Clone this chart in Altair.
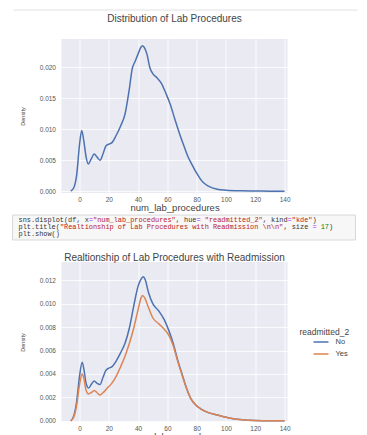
import altair as alt
import pandas as pd

# ---------------- data ----------------
top_x = [-6, -4, -2, 0, 1.5, 3, 4.5, 6, 8, 10, 12, 14, 16, 18, 20, 22, 25, 28, 31,
         34, 36, 38, 40, 42, 43, 44, 46, 48, 50, 53, 56, 59, 62, 65, 68, 71, 74,
         77, 80, 84, 88, 94, 100, 110, 120, 130, 140]
top_density = [0.0, 0.0005, 0.0025, 0.0075, 0.0098, 0.0080, 0.0055, 0.0044, 0.0052,
               0.0060, 0.0055, 0.0050, 0.0060, 0.0073, 0.0076, 0.0078, 0.0090, 0.0105,
               0.0124, 0.0165, 0.0198, 0.0210, 0.0222, 0.0233, 0.0235, 0.0233, 0.0222,
               0.0200, 0.0190, 0.0183, 0.0174, 0.0158, 0.0140, 0.0117, 0.0095, 0.0075,
               0.0056, 0.0042, 0.0029, 0.0015, 0.0008, 0.0003, 0.00015, 0.00005,
               0.00002, 0.0, 0.0]

no_x = [-6, -4, -2, 0, 1.8, 3, 4.5, 6.3, 8, 10, 12, 14, 16, 18, 20, 22, 25, 28, 31,
        34, 37, 40, 42, 43.5, 45, 47, 50, 54, 58, 61, 64, 67, 70, 73, 76, 79, 83, 88,
        94, 100, 106, 115, 125, 140]
no_density = [0.0, 0.0004, 0.0016, 0.0038, 0.0050, 0.0044, 0.0032, 0.0028, 0.0031,
              0.0034, 0.0032, 0.0031, 0.0037, 0.0043, 0.0045, 0.0046, 0.0051, 0.0058,
              0.0066, 0.0079, 0.0098, 0.0115, 0.0121, 0.0123, 0.0120, 0.0110, 0.0100,
              0.0094, 0.0086, 0.0077, 0.0066, 0.0052, 0.0040, 0.0028, 0.0019, 0.0014,
              0.0010, 0.0007, 0.0005, 0.0003, 0.00015, 0.00005, 0.00001, 0.0]

yes_x = [-6, -4, -2, 0, 1.8, 3, 4.5, 6, 8, 10, 12, 14, 16, 19, 22, 25, 28, 31, 34,
         37, 40, 42, 43, 44.5, 47, 50, 54, 58, 61, 64, 67, 70, 73, 76, 79, 83, 88,
         94, 100, 106, 115, 125, 140]
yes_density = [0.0, 0.0003, 0.0013, 0.0031, 0.0040, 0.0036, 0.0026, 0.0023, 0.0024,
               0.0026, 0.0024, 0.0022, 0.0024, 0.0028, 0.0032, 0.0038, 0.0046, 0.0055,
               0.0066, 0.0079, 0.0095, 0.0105, 0.0107, 0.0105, 0.0097, 0.0088, 0.0083,
               0.0078, 0.0073, 0.0064, 0.0051, 0.0039, 0.0028, 0.0019, 0.0014, 0.0010,
               0.0007, 0.0005, 0.0003, 0.00015, 0.00005, 0.00001, 0.0]

x_ticks = [0, 20, 40, 60, 80, 100, 120, 140]
top_y_ticks = [0.0, 0.005, 0.010, 0.015, 0.020]
bottom_y_ticks = [0.0, 0.002, 0.004, 0.006, 0.008, 0.010, 0.012]
hue_levels = ["No", "Yes"]
hue_colors = ["#4c72b0", "#dd8452"]

top_title = "Distribution of Lab Procedures"
bottom_title = "Realtionship of Lab Procedures with Readmission"
x_title = "num_lab_procedures"
y_title = "Density"
legend_title = "readmitted_2"

RED, DARK, PURPLE, GREEN = "#ba2121", "#333333", "#aa22ff", "#008000"
code_lines = [
    [("sns.displot(df, x", DARK), ("=", PURPLE), ('"num_lab_procedures"', RED),
     (", hue", DARK), ("=", PURPLE), (" ", DARK), ('"readmitted_2"', RED),
     (", kind", DARK), ("=", PURPLE), ('"kde"', RED), (")", DARK)],
    [("plt.title(", DARK), ('"Realtionship of Lab Procedures with Readmission \\n\\n"', RED),
     (", size ", DARK), ("=", PURPLE), (" ", DARK), ("17", GREEN), (")", DARK)],
    [("plt.show()", DARK)],
]

# ---------------- tables ----------------
top_df = pd.DataFrame({"x": top_x, "density": top_density})
bottom_df = pd.concat([
    pd.DataFrame({"x": no_x, "density": no_density, "readmitted_2": "No"}),
    pd.DataFrame({"x": yes_x, "density": yes_density, "readmitted_2": "Yes"}),
], ignore_index=True)

CODE_FS = 6.9
CW = CODE_FS * 0.6
rows = []
for li, segs in enumerate(code_lines):
    col = 0
    for txt, c in segs:
        rows.append({"t": txt, "px": -43 + col * CW, "py": 181 + li * 7, "c": c})
        col += len(txt)
code_df = pd.DataFrame(rows)
one = pd.DataFrame({"k": [0]})
title_df = pd.DataFrame({"t": [top_title]})

FONT = "Liberation Sans"
W = 226
TOP_H = 154
SPACING = 69
xscale = alt.Scale(domain=[-12.3, 142], nice=False, zero=False)

x_enc = alt.X("x:Q", scale=xscale, title=x_title,
              axis=alt.Axis(values=x_ticks, format="d"))

top_line = alt.Chart(top_df).mark_line(color="#4c72b0", strokeWidth=1.5,
                                       interpolate="monotone").encode(
    x=x_enc,
    y=alt.Y("density:Q", scale=alt.Scale(domain=[-0.0003, 0.0246], nice=False, zero=False),
            title=y_title, axis=alt.Axis(values=top_y_ticks, format=".3f")),
)

top_title_mark = alt.Chart(title_df).mark_text(
    font=FONT, fontSize=10, color="#444444", align="center", baseline="middle"
).encode(x=alt.value(W / 2), y=alt.value(-20), text="t:N")

code_box = alt.Chart(one).mark_rect(fill="#f7f7f7", stroke="#cfcfcf", strokeWidth=0.8).encode(
    x=alt.value(-49), x2=alt.value(294), y=alt.value(176), y2=alt.value(201)
)
code_text = alt.Chart(code_df).mark_text(
    font="Liberation Mono", fontSize=CODE_FS, align="left", baseline="middle"
).encode(
    x=alt.X("px:Q", scale=None),
    y=alt.Y("py:Q", scale=None),
    text="t:N",
    color=alt.Color("c:N", scale=None),
)
top_rule = alt.Chart(one).mark_rule(color="#e0e0e0", strokeWidth=1).encode(
    x=alt.value(-48), x2=alt.value(296), y=alt.value(-29)
)

top = alt.layer(top_line, top_title_mark, code_box, code_text, top_rule).properties(
    width=W, height=TOP_H,
)

bottom_line = alt.Chart(bottom_df).mark_line(strokeWidth=1.5, interpolate="monotone").encode(
    x=x_enc,
    y=alt.Y("density:Q", scale=alt.Scale(domain=[-0.0001, 0.01356], nice=False, zero=False),
            title=y_title, axis=alt.Axis(values=bottom_y_ticks, format=".3f")),
    color=alt.Color("readmitted_2:N",
                    scale=alt.Scale(domain=hue_levels, range=hue_colors),
                    legend=alt.Legend(title=legend_title, orient="none",
                                      legendX=238, legendY=TOP_H + SPACING + 66)),
)
bottom = bottom_line.properties(
    width=W, height=160,
    title=alt.TitleParams(bottom_title, offset=-1),
)

chart = alt.vconcat(top, bottom, spacing=SPACING, bounds="flush").properties(
    padding={"left": 3.5, "top": 1, "right": 0, "bottom": 0}
).configure_view(
    fill="#eaeaf2", stroke=None
).configure_axis(
    domain=False, ticks=False, grid=True, gridColor="#ffffff", gridWidth=0.8,
    labelFont=FONT, labelFontSize=6.5, labelColor="#555555",
    titleFont=FONT, titleFontWeight="normal", titleColor="#444444",
).configure_axisX(
    labelPadding=3, titleFontSize=9.5, titlePadding=0,
).configure_axisY(
    labelPadding=6, titleFontSize=5.5, titlePadding=14,
).configure_title(
    font=FONT, fontSize=10, fontWeight="normal", color="#444444", anchor="middle",
).configure_legend(
    titleFont=FONT, titleFontSize=8.5, titleFontWeight="normal", titleColor="#444444",
    labelFont=FONT, labelFontSize=7.5, labelColor="#444444",
    symbolType="stroke", symbolSize=225, symbolStrokeWidth=1.5, symbolOffset=13,
    labelOffset=6, rowPadding=-7, titlePadding=-3,
)

chart.save("out.html", embed_options={"renderer": "svg", "actions": False})
